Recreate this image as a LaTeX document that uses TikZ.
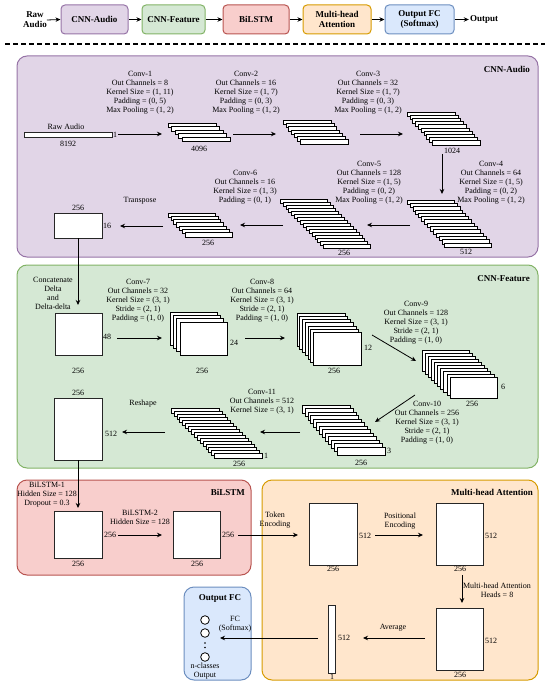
\documentclass[tikz,border=0pt]{standalone}
\usepackage{fontspec}
\setmainfont{Liberation Serif}
\usetikzlibrary{arrows.meta}
\definecolor{pfill}{HTML}{E1D5E7}\definecolor{pline}{HTML}{9673A6}
\definecolor{gfill}{HTML}{D5E8D4}\definecolor{gline}{HTML}{82B366}
\definecolor{rfill}{HTML}{F8CECC}\definecolor{rline}{HTML}{B85450}
\definecolor{ofill}{HTML}{FFE6CC}\definecolor{oline}{HTML}{D79B00}
\definecolor{bfill}{HTML}{DAE8FC}\definecolor{bline}{HTML}{6C8EBF}
\newcommand{\drawstack}[7]{\foreach \i in {1,...,#3}{\draw[layer] ({#1+(\i-1)*#6},{#2+(\i-1)*#7}) rectangle ++(#4,#5);}}
\tikzset{
  lbl/.style={font=\fontsize{8}{9}\selectfont, align=center, inner sep=0pt},
  ttl/.style={font=\bfseries\fontsize{9}{10}\selectfont, align=center, inner sep=0pt},
  arr/.style={-{Stealth[length=5pt,width=4.5pt]}, line width=0.8pt},
  layer/.style={draw=black, fill=white, line width=0.6pt},
  mat/.style={draw=black!85, fill=white, line width=0.8pt, inner sep=0pt},
  panel/.style={rounded corners=10pt, line width=1pt},
  topbox/.style={rounded corners=4pt, line width=1pt, minimum height=29pt, inner sep=0pt, align=center, font=\bfseries\fontsize{9}{10}\selectfont},
}
\begin{document}
\begin{tikzpicture}[x=1pt,y=-1pt]
\useasboundingbox (0,0) rectangle (550,684);
% ---------- top row ----------
\node[ttl] (tRaw) at (35,20) {Raw\\Audio};
\node[topbox, fill=pfill, draw=pline, minimum width=67pt] (tA) at (94.5,19.5) {CNN-Audio};
\node[topbox, fill=gfill, draw=gline, minimum width=63pt] (tF) at (173.5,19.5) {CNN-Feature};
\node[topbox, fill=rfill, draw=rline, minimum width=66pt] (tB) at (256,19.5) {BiLSTM};
\node[topbox, fill=ofill, draw=oline, minimum width=68pt] (tM) at (337,19.5) {Multi-head\\Attention};
\node[topbox, fill=bfill, draw=bline, minimum width=69pt] (tO) at (419.5,19.5) {Output FC\\(Softmax)};
\node[ttl] (tOut) at (484,19.5) {Output};
\draw[arr] (tRaw.east) -- (tA.west);
\draw[arr] (tA.east) -- (tF.west);
\draw[arr] (tF.east) -- (tB.west);
\draw[arr] (tB.east) -- (tM.west);
\draw[arr] (tM.east) -- (tO.west);
\draw[arr] (tO.east) -- ([xshift=-1pt]tOut.west);
\coordinate (dl) at (5,44); \coordinate (dr) at (545,44);
\draw[line width=1.5pt, dash pattern=on 5pt off 3pt] (dl) -- (dr);
% ---------- panels ----------
\draw[panel, fill=pfill, draw=pline] (17,56) rectangle (538,257);
\draw[panel, fill=gfill, draw=gline] (17,265) rectangle (538,468);
\draw[panel, fill=rfill, draw=rline] (17,480) rectangle (251,575);
\draw[panel, fill=ofill, draw=oline] (262,480) rectangle (538,680);
\draw[panel, fill=bfill, draw=bline] (184,587) rectangle (251,680);
\node[ttl, anchor=east] (pA) at (530,69) {CNN-Audio};
\node[ttl, anchor=east] (pF) at (530,279) {CNN-Feature};
\node[ttl, anchor=east] (pB) at (245,492) {BiLSTM};
\node[ttl, anchor=east] (pM) at (533,492) {Multi-head Attention};
\node[ttl] (pO) at (220,598) {Output FC};
% ---------- CNN-Audio ----------
\node[mat, minimum width=88pt, minimum height=5pt] (raw) at (68,134.5) {};
\node[lbl] (rawl) at (66,127) {Raw Audio};
\node[lbl] (rawb) at (68,143.5) {8192};
\node[lbl, anchor=west] (rawr) at (113,134.5) {1};
\node[lbl] (c1) at (140,92.5) {Conv-1\\Out Channels = 8\\Kernel Size = (1, 11)\\Padding = (0, 5)\\Max Pooling = (1, 2)};
\node[lbl] (c2) at (246,92.5) {Conv-2\\Out Channels = 16\\Kernel Size = (1, 7)\\Padding = (0, 3)\\Max Pooling = (1, 2)};
\node[lbl] (c3) at (368,92.5) {Conv-3\\Out Channels = 32\\Kernel Size = (1, 7)\\Padding = (0, 3)\\Max Pooling = (1, 2)};
\drawstack{168}{123}{5}{48}{4.5}{3.5}{3.5}
\drawstack{283}{120}{7}{48}{4.5}{2.8}{3.3}
\drawstack{407}{112}{10}{48}{4.5}{2.8}{3.2}
\node[lbl] (s1b) at (199,148.5) {4096};
\node[lbl] (s3b) at (452,151) {1024};
\coordinate (a1s) at (118,134); \coordinate (a1e) at (162,134);
\coordinate (a2s) at (233,134); \coordinate (a2e) at (276,134);
\coordinate (a3s) at (360,134); \coordinate (a3e) at (403,134);
\draw[arr] (a1s) -- (a1e);
\draw[arr] (a2s) -- (a2e);
\draw[arr] (a3s) -- (a3e);
\coordinate (a4s) at (442,154); \coordinate (a4e) at (442,194);
\draw[arr] (a4s) -- (a4e);
\node[lbl] (c4) at (491,183) {Conv-4\\Out Channels = 64\\Kernel Size = (1, 5)\\Padding = (0, 2)\\Max Pooling = (1, 2)};
\node[lbl] (c5) at (369,183) {Conv-5\\Out Channels = 128\\Kernel Size = (1, 5)\\Padding = (0, 2)\\Max Pooling = (1, 2)};
\node[lbl] (c6) at (245,187.5) {Conv-6\\Out Channels = 16\\Kernel Size = (1, 3)\\Padding = (0, 1)};
\drawstack{407}{200}{14}{47}{4.5}{2.9}{3.3}
\drawstack{280}{199}{16}{47}{4.5}{2.9}{3.0}
\drawstack{168}{213}{7}{47}{4.5}{2.8}{3.25}
\node[lbl] (s4b) at (466,251.5) {512};
\node[lbl] (s5b) at (344,252.5) {256};
\node[lbl] (s6b) at (208,242.5) {256};
\coordinate (a5s) at (410,225); \coordinate (a5e) at (367,225);
\coordinate (a6s) at (283,225); \coordinate (a6e) at (240,225);
\coordinate (a7s) at (163,226); \coordinate (a7e) at (120,226);
\draw[arr] (a5s) -- (a5e);
\draw[arr] (a6s) -- (a6e);
\draw[arr] (a7s) -- (a7e);
\node[lbl] (trl) at (140,201) {Transpose};
\node[mat, minimum width=48pt, minimum height=25pt] (tr) at (78,225.5) {};
\node[lbl] (trt) at (78,207.5) {256};
\node[lbl, anchor=west] (trr) at (103,226) {16};
% ---------- CNN-Feature ----------
\coordinate (a8e) at (78,305);
\draw[arr] (tr.south) -- (a8e);
\node[lbl] (cat) at (53,293.5) {Concatenate\\Delta\\and\\Delta-delta};
\node[mat, minimum width=47pt, minimum height=42pt] (f0) at (78.5,334) {};
\node[lbl, anchor=west] (f0r) at (103,337) {48};
\node[lbl] (f0b) at (78,371) {256};
\node[lbl] (c7) at (138,301) {Conv-7\\Out Channels = 32\\Kernel Size = (3, 1)\\Stride = (2, 1)\\Padding = (1, 0)};
\node[lbl] (c8) at (262,301) {Conv-8\\Out Channels = 64\\Kernel Size = (3, 1)\\Stride = (2, 1)\\Padding = (1, 0)};
\drawstack{170}{312}{4}{47}{33}{3.3}{3.3}
\drawstack{297}{313}{7}{48}{33}{2.7}{3.2}
\node[lbl, anchor=west] (s7r) at (230,343) {24};
\node[lbl] (s7b) at (202,371) {256};
\node[lbl, anchor=west] (s8r) at (364,348) {12};
\node[lbl] (s8b) at (334,371) {256};
\coordinate (a9s) at (117,338); \coordinate (a9e) at (162,338);
\coordinate (a10s) at (245,338); \coordinate (a10e) at (285,338);
\draw[arr] (a9s) -- (a9e);
\draw[arr] (a10s) -- (a10e);
\node[lbl] (c9) at (416,322.5) {Conv-9\\Out Channels = 128\\Kernel Size = (3, 1)\\Stride = (2, 1)\\Padding = (1, 0)};
\coordinate (a11s) at (372,335); \coordinate (a11e) at (416,361);
\draw[arr] (a11s) -- (a11e);
\drawstack{422}{350}{10}{47}{21}{3.1}{3.0}
\node[lbl, anchor=west] (s9r) at (501,387) {6};
\node[lbl] (s9b) at (472,403.5) {256};
\node[lbl] (c10) at (427,422.5) {Conv-10\\Out Channels = 256\\Kernel Size = (3, 1)\\Stride = (2, 1)\\Padding = (1, 0)};
\coordinate (a12s) at (415,395); \coordinate (a12e) at (375,422);
\draw[arr] (a12s) -- (a12e);
\drawstack{302}{405}{13}{48}{8}{2.9}{3.5}
\node[lbl, anchor=west] (s10r) at (387,451) {3};
\node[lbl] (s10b) at (361,463) {256};
\node[lbl] (c11) at (262,402) {Conv-11\\Out Channels = 512\\Kernel Size = (3, 1)};
\coordinate (a13s) at (300,432); \coordinate (a13e) at (260,432);
\draw[arr] (a13s) -- (a13e);
\drawstack{171}{408}{16}{48}{5}{2.9}{3.0}
\node[lbl, anchor=west] (s11r) at (264,455.5) {1};
\node[lbl] (s11b) at (239,463.5) {256};
\coordinate (a14s) at (165,432); \coordinate (a14e) at (122,432);
\draw[arr] (a14s) -- (a14e);
\node[lbl] (rsl) at (143,404) {Reshape};
\node[mat, minimum width=48pt, minimum height=62pt] (rs) at (78,429) {};
\node[lbl] (rst) at (78,392.5) {256};
\node[lbl, anchor=west] (rsr) at (105,434) {512};
% ---------- BiLSTM ----------
\coordinate (a15e) at (78,508);
\draw[arr] (rs.south) -- (a15e);
\node[lbl] (b1l) at (47,495) {BiLSTM-1\\Hidden Size = 128\\Dropout = 0.3};
\node[mat, minimum width=48pt, minimum height=47pt] (b1) at (78,534.5) {};
\node[lbl, anchor=west] (b1r) at (104,535) {256};
\node[lbl] (b1b) at (78,564) {256};
\node[lbl] (b2l) at (140,517) {BiLSTM-2\\Hidden Size = 128};
\coordinate (a16s) at (118,535); \coordinate (a16e) at (162,535);
\draw[arr] (a16s) -- (a16e);
\node[mat, minimum width=47pt, minimum height=47pt] (b2) at (196.5,534.5) {};
\node[lbl, anchor=west] (b2r) at (222,535) {256};
\node[lbl] (b2b) at (197,564) {256};
% ---------- Multi-head Attention ----------
\coordinate (a17s) at (238,535); \coordinate (a17e) at (298,535);
\draw[arr] (a17s) -- (a17e);
\node[lbl] (tok) at (275,520.5) {Token\\Encoding};
\node[mat, minimum width=48pt, minimum height=62pt] (m1) at (333,534) {};
\node[lbl, anchor=west] (m1r) at (359,536) {512};
\node[lbl] (m1b) at (333,569) {256};
\coordinate (a18s) at (375,535); \coordinate (a18e) at (423,535);
\draw[arr] (a18s) -- (a18e);
\node[lbl] (pos) at (400,521.5) {Positional\\Encoding};
\node[mat, minimum width=47pt, minimum height=62pt] (m2) at (459.5,534) {};
\node[lbl, anchor=west] (m2r) at (485,536) {512};
\node[lbl] (m2b) at (460,569) {256};
\coordinate (a19s) at (462,575); \coordinate (a19e) at (462,603);
\draw[arr] (a19s) -- (a19e);
\node[lbl] (mhl) at (497,590.5) {Multi-head Attention\\Heads = 8};
\node[mat, minimum width=47pt, minimum height=62pt] (m3) at (459.5,639) {};
\node[lbl, anchor=west] (m3r) at (485,641) {512};
\node[lbl] (m3b) at (460,675) {256};
\coordinate (a20s) at (425,638); \coordinate (a20e) at (363,638);
\draw[arr] (a20s) -- (a20e);
\node[lbl] (avg) at (393,628) {Average};
\node[mat, minimum width=7pt, minimum height=68pt] (m4) at (331.5,639) {};
\node[lbl, anchor=west] (m4r) at (338,638) {512};
\node[lbl] (m4b) at (332,677) {1};
% ---------- Output FC ----------
\coordinate (a21s) at (318,638); \coordinate (a21e) at (220,638);
\draw[arr] (a21s) -- (a21e);
\node[circle, draw=black, fill=white, line width=0.8pt, minimum size=8.6pt, inner sep=0pt] (o1) at (205,620) {};
\node[circle, draw=black, fill=white, line width=0.8pt, minimum size=8.6pt, inner sep=0pt] (o2) at (205,633) {};
\node[circle, draw=black, fill=white, line width=0.8pt, minimum size=8.6pt, inner sep=0pt] (o3) at (205,657) {};
\fill (205,643) circle (0.8pt);
\fill (205,647.5) circle (0.8pt);
\node[lbl] (fcl) at (235,624.5) {FC\\(Softmax)};
\node[lbl] (ncl) at (205,671.5) {n-classes\\Output};
\end{tikzpicture}
\end{document}
